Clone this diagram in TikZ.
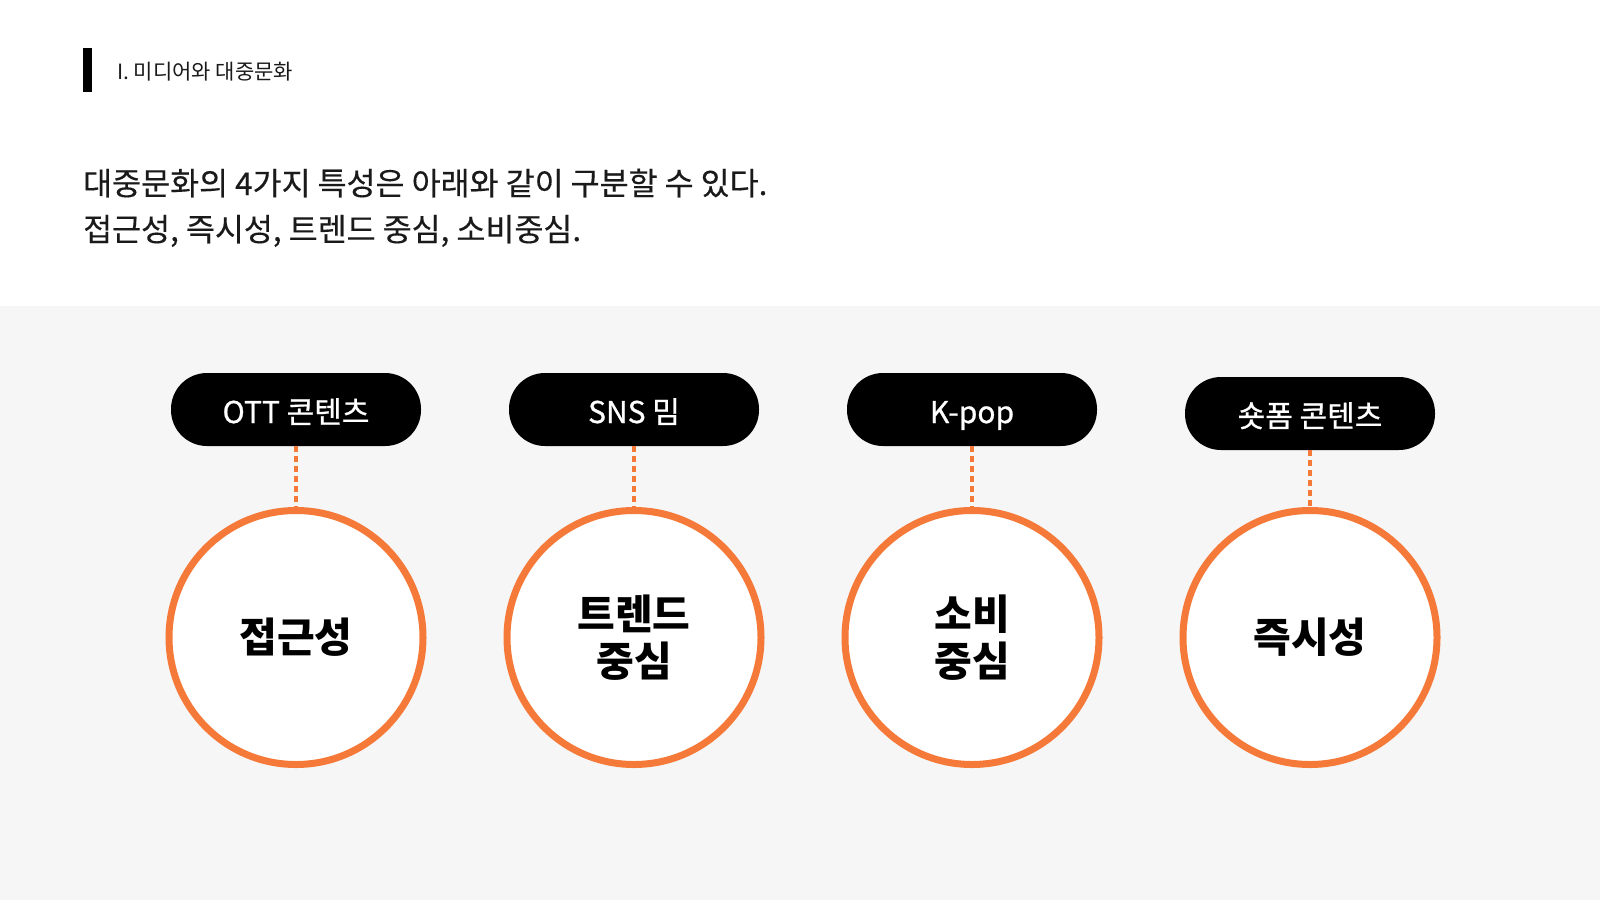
\documentclass[tikz,border=0pt]{standalone}
\usepackage{fontspec}
\setmainfont{Noto Sans CJK KR}
\newfontfamily\pillfont{Noto Sans CJK KR}[FakeBold=0.8]
\newfontfamily\bodyfont{Noto Sans CJK KR}[FakeBold=0.3]
\definecolor{bgrey}{RGB}{246,246,246}
\definecolor{accent}{RGB}{245,122,58}
\definecolor{ink}{RGB}{26,26,26}
\begin{document}
\begin{tikzpicture}[x=1pt,y=-1pt,
  pill/.style={fill=black, rounded corners=36pt, minimum width=250pt, minimum height=73pt,
    inner sep=0pt, text height=27pt, text depth=0pt, text=white, font=\pillfont\fontsize{30}{34}\selectfont},
  circ/.style={circle, draw=accent, line width=7pt, fill=white, minimum size=254pt,
    inner sep=0pt, align=center, text=black, font=\bfseries\fontsize{41}{47}\selectfont},
  conn/.style={draw=accent, line width=3.5pt, dash pattern=on 6pt off 4pt},
  headtxt/.style={anchor=base west, inner sep=0pt, text=ink, font=\fontsize{21}{24}\selectfont},
  bodytxt/.style={anchor=base west, inner sep=0pt, text=ink, font=\bodyfont\fontsize{31.5}{36}\selectfont}
]
\useasboundingbox (0,0) rectangle (1600,900);
\fill[white] (0,0) rectangle (1600,306);
\fill[bgrey] (0,306) rectangle (1600,900);

% header
\fill[black] (83,48) rectangle (92,92);
\node[headtxt] (hd) at (117,79) {I. 미디어와 대중문화};

\node[bodytxt] (l1) at (83,195) {대중문화의 4가지 특성은 아래와 같이 구분할 수 있다.};
\node[bodytxt] (l2) at (83,241) {접근성, 즉시성, 트렌드 중심, 소비중심.};

% pills
\node[pill] (p1) at (296,409.5) {OTT 콘텐츠};
\node[pill] (p2) at (634,409.5) {SNS 밈};
\node[pill] (p3) at (972,409.5) {K-pop};
\node[pill] (p4) at (1310,413.5) {숏폼 콘텐츠};

% circles
\node[circ] (c1) at (296,637.5) {접근성};
\node[circ] (c2) at (634,637.5) {트렌드\\중심};
\node[circ] (c3) at (972,637.5) {소비\\중심};
\node[circ] (c4) at (1310,637.5) {즉시성};

% connectors
\draw[conn] (p1.south) -- (c1.north);
\draw[conn] (p2.south) -- (c2.north);
\draw[conn] (p3.south) -- (c3.north);
\draw[conn] (p4.south) -- (c4.north);
\end{tikzpicture}
\end{document}
